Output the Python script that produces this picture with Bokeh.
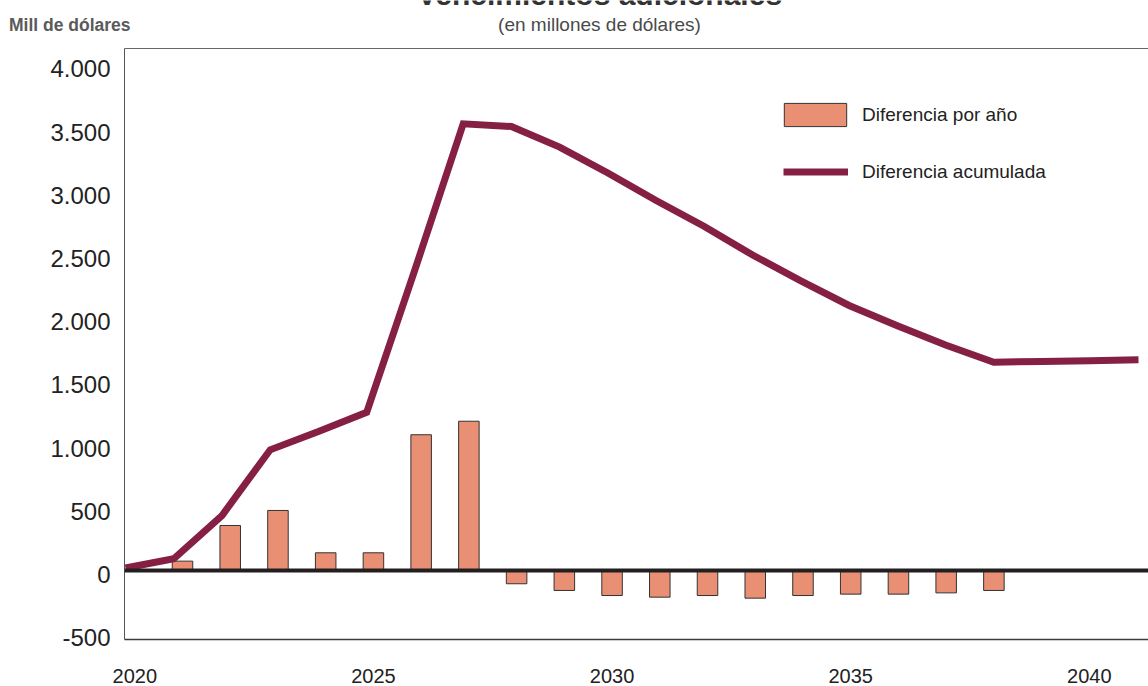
from bokeh.plotting import figure
from bokeh.layouts import column
from bokeh.models import Range1d, LinearAxis, FixedTicker, Span, Legend, LegendItem
from bokeh.core.properties import value
from bokeh.embed import file_html
from bokeh.resources import INLINE

# ---- data ----
bar_years = list(range(2021, 2039))
bar_values = [74, 356, 475, 140, 140, 1074, 1181, -105, -158, -198, -211,
              -198, -219, -198, -187, -187, -177, -158]
line_years = list(range(2020, 2042))
line_values = [20, 93, 435, 955, 1100, 1252, 2380, 3534, 3513, 3350, 3145,
               2927, 2722, 2496, 2291, 2097, 1936, 1784, 1648, 1654, 1660, 1667]
x_ticks = [2020, 2025, 2030, 2035, 2040]
x_tick_labels = ["2020", "2025", "2030", "2035", "2040"]
y_ticks = [-500, 0, 500, 1000, 1500, 2000, 2500, 3000, 3500, 4000]
y_tick_labels = ["-500", "0", "500", "1.000", "1.500", "2.000", "2.500",
                 "3.000", "3.500", "4.000"]
title_text = "Vencimientos adicionales"
subtitle_text = "(en millones de dólares)"
unit_text = "Mill de dólares"
legend_bar = "Diferencia por año"
legend_line = "Diferencia acumulada"

SANS = "Liberation Sans"
W = 1148
HDR_H = 40
LEFT = 124

# ---------------- header strip (titles) ----------------
hdr = figure(width=W, height=HDR_H, output_backend="svg", toolbar_location=None,
             x_range=Range1d(LEFT, W), y_range=Range1d(HDR_H, 0),
             x_axis_location=None, y_axis_location=None,
             min_border_left=LEFT, min_border_right=0,
             min_border_top=0, min_border_bottom=0)
hdr.outline_line_color = None
hdr.xgrid.visible = False
hdr.ygrid.visible = False
unit_axis = LinearAxis(ticker=FixedTicker(ticks=[24.5]),
                       major_label_overrides={24.5: unit_text})
unit_axis.axis_line_color = None
unit_axis.major_tick_line_color = None
unit_axis.minor_tick_line_color = None
unit_axis.major_tick_out = 0
unit_axis.major_tick_in = 0
unit_axis.major_label_standoff = -6
unit_axis.major_label_text_font = SANS
unit_axis.major_label_text_font_style = "bold"
unit_axis.major_label_text_font_size = "17.5px"
unit_axis.major_label_text_color = "#5a5a5a"
hdr.add_layout(unit_axis, "left")
hdr.text(x=[599], y=[23.5], text=[subtitle_text], text_font=value(SANS),
         text_font_size="19px", text_color="#4a4a4a",
         text_align="center", text_baseline="middle")
hdr.text(x=[599], y=[-6], text=[title_text], text_font=value(SANS),
         text_font_style="bold", text_font_size="30px", text_color="#333333",
         text_align="center", text_baseline="middle")

# ---------------- main chart ----------------
p = figure(width=W, height=686 - HDR_H, output_backend="svg", toolbar_location=None,
           x_range=Range1d(2019.785, 2041.239), y_range=Range1d(-546, 4130),
           x_axis_location=None, y_axis_location=None,
           min_border_left=LEFT, min_border_right=0, min_border_top=48 - HDR_H,
           min_border_bottom=47)
p.outline_line_color = None
p.xgrid.visible = False
p.ygrid.visible = False

p.extra_x_ranges = {"line": Range1d(2019.979, 2041.207)}
p.extra_y_ranges = {"ylab": Range1d(-514, 4162)}

xaxis = LinearAxis(ticker=FixedTicker(ticks=x_ticks),
                   major_label_overrides={t: l for t, l in zip(x_ticks, x_tick_labels)})
xaxis.major_tick_line_color = None
xaxis.minor_tick_line_color = None
xaxis.major_tick_out = 0
xaxis.major_tick_in = 0
xaxis.major_label_standoff = 29
xaxis.major_label_text_font = SANS
xaxis.major_label_text_font_size = "20px"
xaxis.major_label_text_color = "#222222"
xaxis.axis_line_color = "#3a3a3a"
xaxis.axis_line_width = 1.5
p.add_layout(xaxis, "below")

yaxis = LinearAxis(y_range_name="ylab", ticker=FixedTicker(ticks=y_ticks),
                   major_label_overrides={t: l for t, l in zip(y_ticks, y_tick_labels)})
yaxis.major_tick_line_color = None
yaxis.minor_tick_line_color = None
yaxis.major_tick_out = 0
yaxis.major_tick_in = 0
yaxis.major_label_standoff = 14
yaxis.major_label_text_font = SANS
yaxis.major_label_text_font_size = "24px"
yaxis.major_label_text_color = "#222222"
yaxis.axis_line_color = "#555555"
yaxis.axis_line_width = 1
p.add_layout(yaxis, "left")

topaxis = LinearAxis(ticker=FixedTicker(ticks=[]))
topaxis.major_tick_line_color = None
topaxis.minor_tick_line_color = None
topaxis.major_tick_out = 0
topaxis.major_tick_in = 0
topaxis.major_label_standoff = 0
topaxis.axis_line_color = "#666666"
topaxis.axis_line_width = 1
p.add_layout(topaxis, "above")

bars = p.vbar(x=bar_years, top=bar_values, bottom=0, width=0.43,
              fill_color="#E98F73", line_color="#333333", line_width=1)
ln = p.line(x=line_years, y=line_values, x_range_name="line",
            line_color="#861F44", line_width=7, line_join="miter")

p.add_layout(Span(location=0, dimension="width", line_color="#231F20", line_width=4))

def style_legend(lg):
    lg.padding = 0
    lg.margin = 0
    lg.border_line_color = None
    lg.background_fill_alpha = 0
    lg.label_text_font = SANS
    lg.label_text_font_size = "19px"
    lg.label_text_color = "#222222"

# bar legend: area swatch is drawn inset by 10% on each side
leg_bar = Legend(items=[LegendItem(label=legend_bar, renderers=[bars])],
                 location=(652, 510))
leg_bar.glyph_width = 78
leg_bar.glyph_height = 29
leg_bar.label_height = 29
leg_bar.label_standoff = 8
style_legend(leg_bar)
p.add_layout(leg_bar, "center")

leg_line = Legend(items=[LegendItem(label=legend_line, renderers=[ln])],
                  location=(659, 456))
leg_line.glyph_width = 65
leg_line.glyph_height = 23
leg_line.label_height = 23
leg_line.label_standoff = 14
style_legend(leg_line)
p.add_layout(leg_line, "center")

layout = column(hdr, p, spacing=0)
open("out.html", "w").write(file_html(layout, INLINE))
